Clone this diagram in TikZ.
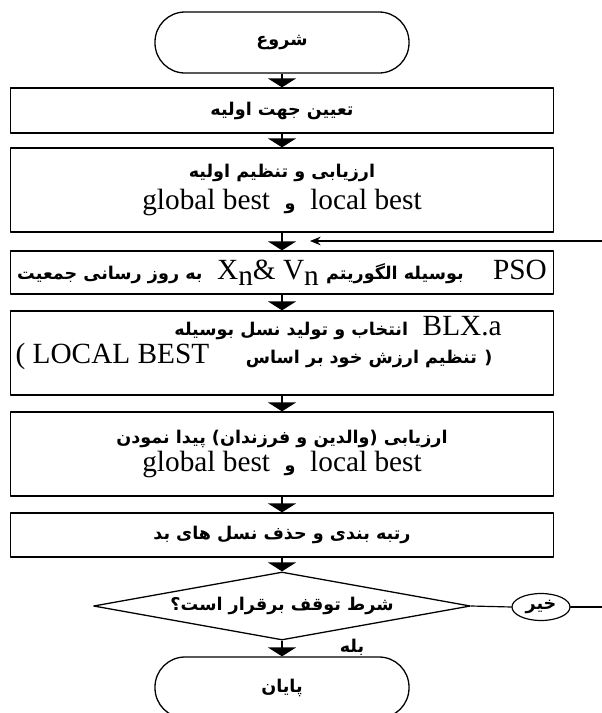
\documentclass[tikz,border=0pt]{standalone}
\usepackage{fontspec}
\setmainfont{Liberation Serif}
\newfontfamily\farsi[Script=Arabic]{DejaVu Sans}
\TeXXeTstate=1
\usetikzlibrary{arrows.meta,shapes.geometric}
\newcommand{\fatxt}[1]{{\farsi\bfseries\fontsize{15}{17}\selectfont\beginR#1\endR}}

\begin{document}
\begin{tikzpicture}[x=0.3mm, y=-0.3mm, line join=round, line cap=round,
	font=\fontsize{25}{27}\selectfont,
	hop/.style={draw, line width=1.1pt, minimum width=162.9mm, inner sep=0pt},
	daumut/.style={draw, line width=1.1pt, rounded corners=9mm, minimum width=76.2mm, minimum height=18.3mm},
	muiten/.style={line width=2.4pt, line cap=butt, -{Triangle[width=8.4mm,length=2.7mm]}},
	noi/.style={line width=1pt}]
	\useasboundingbox (0,0) rectangle (602,713);
	% cac khoi chinh
	\path
	(282,42.5) node[daumut] (batdau) {\fatxt{شروع}}
	(282,110.5) node[hop, minimum height=13.5mm] (b1) {\fatxt{تعیین جهت اولیه}}
	(282,190) node[hop, minimum height=25.2mm, align=center] (b2)
		{\fatxt{ارزیابی و تنظیم اولیه}\\ global best\ \ \fatxt{و}\ \ local best}
	(282,272.5) node[hop, minimum height=12.9mm] (b3)
		{\fatxt{به روز رسانی جمعیت}\ \ X\raisebox{-0.45ex}{n}\& V\raisebox{-0.45ex}{n}\ \fatxt{بوسیله الگوریتم}\quad PSO}
	(282,353) node[hop, minimum height=25.2mm] (b4) {}
	(338,328) node (b4x) {\fatxt{انتخاب و تولید نسل بوسیله}\ \ BLX.a}
	(254,356) node (b4y) {( LOCAL BEST\quad\ \fatxt{تنظیم ارزش خود بر اساس} {\farsi\bfseries\fontsize{15}{17}\selectfont(}}
	(282,454) node[hop, minimum height=25.2mm, align=center] (b5)
		{\fatxt{ارزیابی (والدین و فرزندان) پیدا نمودن}\\[-1mm] global best\ \ \fatxt{و}\ \ local best}
	(282,535) node[hop, minimum height=13.2mm] (b6) {\fatxt{رتبه بندی و حذف نسل های بد}}
	(282,606) node[diamond, draw, line width=1.1pt, shape aspect=5.5, inner sep=0pt,
		minimum width=113.1mm, minimum height=20.4mm] (dk) {\fatxt{شرط توقف برقرار است؟}}
	(282,687.5) node[daumut] (ketthuc) {\fatxt{پایان}}
	(541,607) node[ellipse, draw, line width=1pt, inner sep=0pt,
		minimum width=17.4mm, minimum height=8.1mm] (khong) {\fatxt{خیر}}
	(352,647) node (co) {\fatxt{بله}}
	(606,607) coordinate (R1)
	(310,241) coordinate (dich)
	;
	\foreach \a/\b in {batdau/b1,b1/b2,b2/b3,b3/b4,b4/b5,b5/b6,b6/dk,dk/ketthuc}{
		\draw[muiten] (\a.south) -- (\b.north);
	}
	% vong lap lai
	\draw[noi] (dk.east) -- (khong.west);
	\draw[noi, -{Stealth[length=3.2mm,width=2.6mm]}] (khong.east) -- (R1) |- (dich);
\end{tikzpicture}
\end{document}
